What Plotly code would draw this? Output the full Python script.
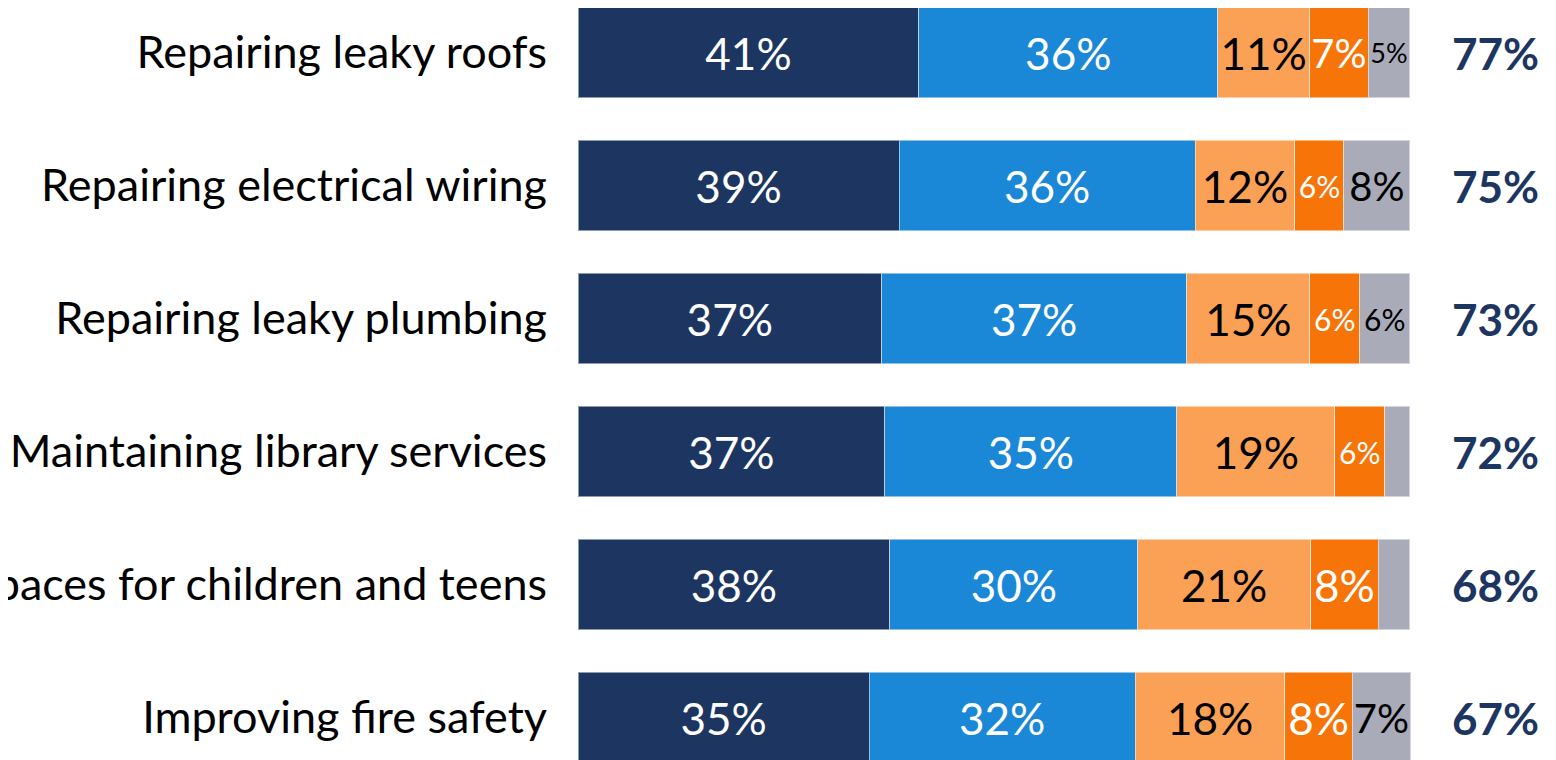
import plotly.graph_objects as go

categories = [
    "Repairing leaky roofs",
    "Repairing electrical wiring",
    "Repairing leaky plumbing",
    "Maintaining library services",
    "Creating spaces for children and teens",
    "Improving fire safety",
]
series_names = ["Very important", "Somewhat important", "Not too important",
                "Not at all important", "Don't know"]
very = [41.0, 38.6, 36.5, 36.9, 37.5, 35.0]
somewhat = [35.9, 35.6, 36.7, 35.1, 29.8, 32.0]
not_too = [11.1, 12.0, 14.8, 19.0, 20.8, 18.0]
not_at_all = [7.0, 5.9, 6.0, 6.0, 8.1, 8.1]
dont_know = [5.0, 7.9, 6.0, 3.0, 3.8, 7.0]

very_lbl = ["41%", "39%", "37%", "37%", "38%", "35%"]
somewhat_lbl = ["36%", "36%", "37%", "35%", "30%", "32%"]
not_too_lbl = ["11%", "12%", "15%", "19%", "21%", "18%"]
not_at_all_lbl = ["7%", "6%", "6%", "6%", "8%", "8%"]
dont_know_lbl = ["5%", "8%", "6%", "", "", "7%"]
totals = ["77%", "75%", "73%", "72%", "68%", "67%"]

colors = ["#1d3661", "#1a87d7", "#fba155", "#f77408", "#a9abb8"]
FONT = "Lato, Carlito, Calibri, sans-serif"
BIG = 44
FIT = 40
SMALL = 27
MID = 30

values = [very, somewhat, not_too, not_at_all, dont_know]
labels = [very_lbl, somewhat_lbl, not_too_lbl, not_at_all_lbl, dont_know_lbl]
text_colors = ["white", "white", "black", "white", "black"]
sizes = [
    [BIG] * 6,
    [BIG] * 6,
    [BIG] * 6,
    [FIT, MID, MID, MID, BIG, BIG],
    [SMALL, FIT, MID, FIT, FIT, FIT],
]

fig = go.Figure()
for name, v, lab, c, tc, sz in zip(series_names, values, labels, colors, text_colors, sizes):
    fig.add_trace(go.Bar(
        y=categories, x=v, orientation="h", name=name,
        marker=dict(color=c, line=dict(color="rgba(255,255,255,0.5)", width=1)),
        text=lab, textposition="inside", insidetextanchor="middle", textangle=0,
        textfont=dict(family=FONT, color=tc, size=sz),
        constraintext="none", cliponaxis=False,
        hoverinfo="skip",
    ))

for cat, t in zip(categories, totals):
    fig.add_annotation(
        x=1.1460, xref="paper", y=cat, yref="y", text="<b>" + t + "</b>",
        showarrow=False, xanchor="right", yanchor="middle",
        font=dict(family=FONT, size=BIG, color="#1d3661"),
    )

fig.update_layout(
    width=1548, height=752,
    barmode="stack", bargap=0.316,
    showlegend=False,
    plot_bgcolor="white", paper_bgcolor="white",
    margin=dict(l=570, r=138, t=0, b=0),
    xaxis=dict(range=[0, 101], visible=False, fixedrange=True),
    yaxis=dict(
        range=[5.3195, -0.3346], automargin=False,
        showgrid=False, zeroline=False, showline=False, ticks="",
        ticklabelstandoff=30,
        tickfont=dict(family=FONT, size=45, color="black"),
    ),
)

fig.write_html("out.html")
